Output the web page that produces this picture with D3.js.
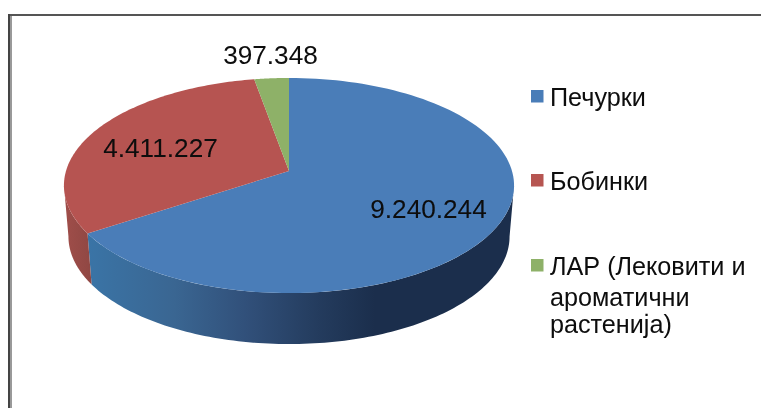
<!DOCTYPE html>
<html><head><meta charset="utf-8">
<script src="https://cdn.jsdelivr.net/npm/d3@7/dist/d3.min.js"></script>
<style>html,body{margin:0;padding:0;background:#fff}svg{display:block}text{font-family:"Liberation Sans",Arial,sans-serif;fill:#0a0a0a}</style>
</head><body><script>
const categories = ["Печурки", "Бобинки", "ЛАР (Лековити и"];
const legendExtraLines = ["ароматични", "растенија)"];
const values = [9240244, 4411227, 397348];
const topColors = ["#4a7db8", "#b65451", "#8eb168"];
const W = 761, H = 408;
const svg = d3.select("body").append("svg").attr("width", W).attr("height", H);
const defs = svg.append("defs");
defs.append("filter").attr("id", "soft").attr("x", "-5%").attr("y", "-20%").attr("width", "110%").attr("height", "140%")
  .append("feGaussianBlur").attr("stdDeviation", 0.35);
const blueGrad = defs.append("linearGradient").attr("id", "sideBlue").attr("gradientUnits", "userSpaceOnUse")
  .attr("x1", 88).attr("x2", 375).attr("y1", 0).attr("y2", 0);
[[0, "#3a74a6"], [.3, "#3a6692"], [.55, "#31507a"], [.8, "#243c5e"], [1, "#1b2e4c"]]
  .forEach(s => blueGrad.append("stop").attr("offset", s[0]).attr("stop-color", s[1]));
const redGrad = defs.append("linearGradient").attr("id", "sideRed").attr("gradientUnits", "userSpaceOnUse")
  .attr("x1", 64).attr("x2", 92).attr("y1", 0).attr("y2", 0);
[[0, "#a04e4a"], [1, "#8f4743"]].forEach(s => redGrad.append("stop").attr("offset", s[0]).attr("stop-color", s[1]));
const sideFills = ["url(#sideBlue)", "url(#sideRed)", "#6f8c52"];

// frame
svg.append("rect").attr("x", 8).attr("y", 14).attr("width", W - 8).attr("height", 2).attr("fill", "#555");
svg.append("rect").attr("x", 8).attr("y", 14).attr("width", 2).attr("height", H - 14).attr("fill", "#444");
svg.append("rect").attr("x", 10).attr("y", 16).attr("width", 2).attr("height", H - 16).attr("fill", "#999");

// perspective projection of the pie disc
const cx = 289, apexY = 171, p = 0.135, a = 223, b = 105.6, depth = 51, shrink = 0.98;
const project = t => {
  const u = Math.sin(t), v = -Math.cos(t), w = 1 - p * v;
  return [cx + a * u / w, apexY + b * v / w];
};
const lower = q => [cx + (q[0] - cx) * shrink, q[1] + depth];
const arcPts = (t0, t1) => d3.range(0, 121).map(i => project(t0 + (t1 - t0) * i / 120));
const line = d3.line();
const arcs = d3.pie().sort(null).value(d => d)(values);

// sides, visible only between the two silhouette tangents
const tanR = Math.acos(-p), tanL = 2 * Math.PI - tanR;
const pie = svg.append("g");
arcs.forEach((d, i) => {
  const t0 = Math.max(d.startAngle, tanR), t1 = Math.min(d.endAngle, tanL);
  if (t1 <= t0) return;
  const top = arcPts(t0, t1);
  pie.append("path").attr("d", line(top.concat(top.map(lower).reverse())) + "Z").attr("fill", sideFills[i]);
});
// top faces
arcs.forEach((d, i) => {
  pie.append("path").attr("d", line([[cx, apexY], ...arcPts(d.startAngle, d.endAngle)]) + "Z")
    .attr("fill", topColors[i]);
});

// data labels
const fmt = d3.formatLocale({decimal: ",", thousands: ".", grouping: [3], currency: ["", ""]}).format(",d");
const labelPos = [[428.5, 218], [160.5, 156.5], [270.5, 64]];
const labels = svg.append("g").attr("filter", "url(#soft)");
values.forEach((v, i) => {
  labels.append("text").attr("x", labelPos[i][0]).attr("y", labelPos[i][1]).attr("text-anchor", "middle")
    .attr("font-size", 26.2).text(fmt(v));
});

// legend
const legendY = [90, 174, 259];
const legendTextY = [106, 190, 275];
const legend = svg.append("g").attr("filter", "url(#soft)");
categories.forEach((c, i) => {
  legend.append("rect").attr("x", 531).attr("y", legendY[i]).attr("width", 12.5).attr("height", 12.5).attr("fill", topColors[i]);
  legend.append("text").attr("x", 550).attr("y", legendTextY[i]).attr("font-size", 25.2).text(c);
});
legendExtraLines.forEach((c, i) => {
  legend.append("text").attr("x", 550).attr("y", 306 + i * 27).attr("font-size", 25.2).text(c);
});
</script></body></html>
